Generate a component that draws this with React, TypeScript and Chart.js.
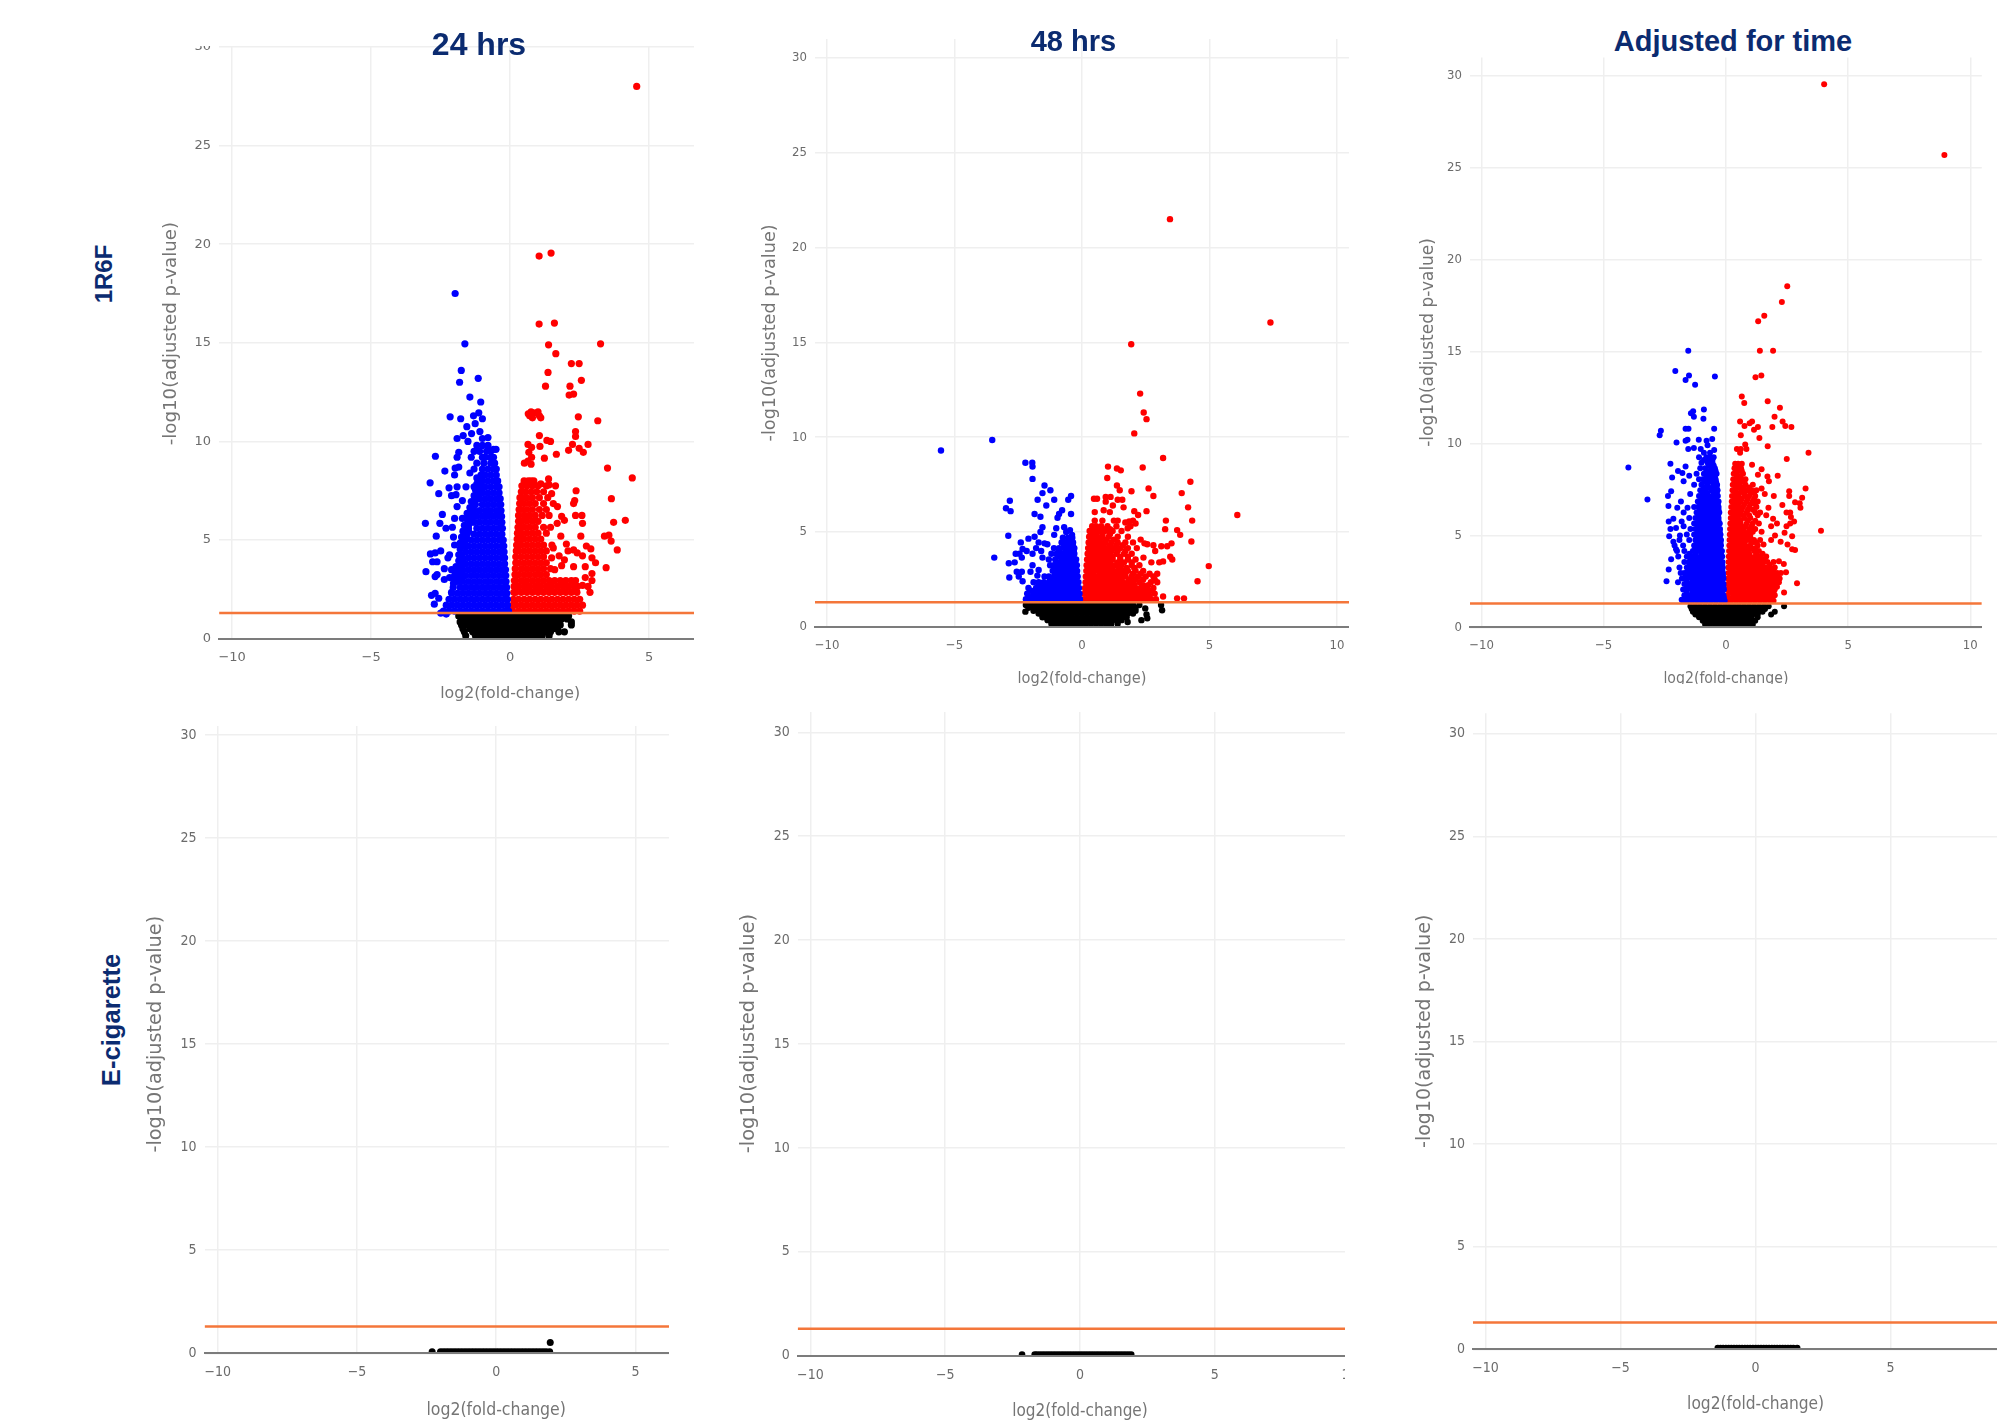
import React, { useEffect, useRef } from "react";
import { Chart, registerables } from "chart.js";

Chart.register(...registerables);

const xLimit = 10.47;
const yMaxes = [30.93, 31, 31, 30.97, 31, 31];
const threshold = 1.301;
const xTicks = [-10, -5, 0, 5, 10];
const xLabel = "log2(fold-change)";
const yLabel = "-log10(adjusted p-value)";
const columnTitles = ["24 hrs", "48 hrs", "Adjusted for time"];
const rowTitles = ["1R6F", "E-cigarette"];

// Rows are [y, x, x, x ...] : the dense part of each cloud.
const blue24Rows = [
  [1.4, -2.4, -2.2, -2, -1.8, -1.6, -1.4, -1.2, -1, -.8, -.6, -.4, -.2, -.06],
  [1.7, -2.3, -2.1, -1.9, -1.7, -1.5, -1.3, -1.1, -.9, -.7, -.5, -.3, -.1],
  [2, -2.2, -2, -1.8, -1.6, -1.4, -1.2, -1, -.8, -.6, -.4, -.2, -.1],
  [2.3, -2.1, -1.9, -1.7, -1.5, -1.3, -1.1, -.9, -.7, -.5, -.3, -.12],
  [2.6, -2.05, -1.8, -1.6, -1.4, -1.2, -1, -.8, -.6, -.4, -.2, -.13],
  [2.9, -1.9, -1.7, -1.5, -1.3, -1.1, -.9, -.7, -.5, -.3, -.15],
  [3.2, -2, -1.8, -1.6, -1.4, -1.2, -1, -.8, -.6, -.4, -.2, -.16],
  [3.5, -1.9, -1.7, -1.5, -1.3, -1.1, -.9, -.7, -.5, -.3, -.17],
  [3.8, -1.8, -1.6, -1.4, -1.2, -1, -.8, -.6, -.4, -.2],
  [4.1, -1.7, -1.5, -1.3, -1.1, -.9, -.7, -.5, -.3, -.2],
  [4.4, -1.6, -1.4, -1.2, -1, -.8, -.6, -.4, -.22],
  [4.7, -1.65, -1.5, -1.3, -1.1, -.9, -.7, -.5, -.3, -.23],
  [5, -1.6, -1.4, -1.2, -1, -.8, -.6, -.4, -.25],
  [5.3, -1.55, -1.3, -1.1, -.9, -.7, -.5, -.3],
  [5.6, -1.5, -1.2, -1, -.8, -.6, -.4, -.28],
  [5.9, -1.4, -1.3, -1.1, -.9, -.7, -.5, -.3],
  [6.2, -1.35, -1.2, -1, -.8, -.6, -.4, -.31],
  [6.5, -1.3, -1.1, -.9, -.7, -.5, -.33],
  [6.8, -1.25, -1, -.8, -.6, -.4, -.34],
  [7.1, -1.2, -1.1, -.9, -.7, -.5, -.36],
  [7.4, -1.1, -1, -.8, -.6, -.4],
  [7.7, -1.3, -1.05, -.9, -.7, -.5, -.4],
  [8, -1.1, -1, -.8, -.6, -.45],
  [8.3, -1.05, -.9, -.7, -.5],
  [8.6, -1.3, -1, -.8, -.6, -.5],
  [8.9, -1.2, -.95, -.7, -.6],
  [9.2, -1.4, -1, -.9, -.7, -.6],
  [9.5, -1.3, -1.1, -.85, -.7],
  [9.8, -1.2, -1, -.8],
];
const blue24Fill = [
  [3.05, -2.05, -1.95, -1.75], [3.35, -1.95, -1.8], [3.65, -1.95, -1.75], [3.95, -1.85, -1.7], [4.25, -1.85, -1.75], [4.55, -1.8],
  [4.85, -1.8, -1.75], [5.15, -1.75, -1.6], [5.45, -1.7, -1.5], [5.75, -1.65, -1.5], [6.05, -1.55, -1.45], [6.35, -1.55, -1.4],
  [6.65, -1.45, -1.35], [6.95, -1.4, -1.3], [7.25, -1.3], [7.55, -1.25], [7.85, -1.2], [8.15, -1.2],
];
const blue24Scatter = [
  [-1.98, 17.5], [-1.63, 14.95], [-1.76, 13.6], [-1.15, 13.2], [-1.82, 13], [-1.45, 12.25], [-1.06, 12], [-2.16, 11.25],
  [-1.78, 11.15], [-1.32, 11.3], [-1.13, 11.45], [-1, 11.15], [-1.26, 10.9], [-1.56, 10.75], [-1.09, 10.5], [-1.39, 10.4],
  [-1.69, 10.3], [-1.91, 10.15], [-.8, 10.2], [-1, 10.15], [-1.52, 10], [-1.85, 9.45], [-2.69, 9.25], [-1.91, 9.2],
  [-.51, 9.6], [-.6, 9.6], [-.56, 8.9], [-2.35, 8.5], [-1.98, 8.65], [-1.85, 8.7], [-2, 8.3], [-1.45, 8.4], [-2.88, 7.9],
  [-2.2, 7.65], [-1.91, 7.7], [-1.59, 7.7], [-2.57, 7.35], [-2.11, 7.25], [-1.95, 7.3], [-1.72, 7], [-1.91, 6.7],
  [-2.44, 6.3], [-2, 6.1], [-1.72, 6.1], [-3.05, 5.85], [-2.53, 5.85], [-2.31, 5.6], [-2.08, 5.65], [-2.66, 5.2],
  [-2.04, 5.15], [-2, 4.75], [-2.5, 4.45], [-2.7, 4.35], [-2.87, 4.3], [-2.18, 4.25], [-2.79, 3.9], [-2.63, 3.9],
  [-2.24, 4.1], [-2.37, 3.55], [-2.11, 3.5], [-3.03, 3.4], [-2.7, 3.15], [-2.63, 3.25], [-2.37, 3], [-2.18, 3.1],
  [-2.04, 2.8], [-2.11, 2.35], [-2.83, 2.2], [-2.7, 2.3], [-2.57, 2.05], [-2.73, 1.75], [-2.5, 1.3], [-2.3, 1.25],
];
const red24Rows = [
  [1.4, .08, .3, .5, .7, .9, 1.1, 1.3, 1.5, 1.7, 1.9, 2.1, 2.3, 2.5],
  [1.7, .1, .2, .4, .6, .8, 1, 1.2, 1.4, 1.6, 1.8, 2, 2.2, 2.4, 2.6],
  [2, .12, .3, .5, .7, .9, 1.1, 1.3, 1.5, 1.7, 1.9, 2.1, 2.3, 2.5],
  [2.35, .13, .2, .4, .6, .8, 1, 1.2, 1.4, 1.6, 1.8, 2, 2.2, 2.4],
  [2.65, .14, .3, .5, .7, .9, 1.1, 1.3, 1.5, 1.7, 1.9, 2.1, 2.3, 2.42],
  [2.95, .15, .2, .4, .6, .8, 1, 1.2, 1.4, 1.6, 1.8, 2, 2.2, 2.35],
  [3.25, .17, .3, .5, .7, .9, 1.1, 1.3],
  [3.55, .18, .4, .6, .8, 1, 1.2, 1.45],
  [3.85, .2, .3, .5, .7, .9, 1.1, 1.3],
  [4.15, .2, .4, .6, .8, 1, 1.2],
  [4.45, .22, .3, .5, .7, .9, 1.1, 1.3],
  [4.75, .23, .4, .6, .8, 1, 1.2, 1.5],
  [5.05, .25, .35, .5, .7, .9, 1.1],
  [5.35, .26, .4, .6, .8, 1, 1.3],
  [5.65, .28, .35, .5, .7, .9, 1.2, 1.45],
  [5.95, .3, .4, .6, .8, 1],
  [6.25, .3, .5, .7, .9, 1.15, 1.4],
  [6.55, .32, .4, .6, .8, 1.05, 1.3],
  [6.85, .34, .5, .7, .9, 1.2, 1.55],
  [7.15, .35, .42, .6, .8, 1.05, 1.35],
  [7.45, .4, .55, .75, .95, 1.2],
  [7.75, .42, .6, .8, 1, 1.3],
  [8, .5, .65, .85, .75],
];
const red24Scatter = [
  [4.55, 28], [1.04, 19.4], [1.47, 19.55], [1.04, 15.95], [1.59, 16], [1.38, 14.9], [3.25, 14.95], [1.64, 14.45], [2.2, 13.95],
  [2.48, 13.95], [1.36, 13.5], [2.56, 13.1], [1.27, 12.8], [2.15, 12.8], [2.12, 12.35], [2.28, 12.4], [.65, 11.4], [.75, 11.5],
  [.85, 11.45], [.8, 11.2], [1, 11.5], [1.05, 11.3], [1.1, 11.2], [.7, 11.3], [2.45, 11.25], [3.15, 11.05], [1.05, 10.3],
  [2.35, 10.5], [2.35, 10.25], [1.32, 10.05], [1.45, 10], [2.24, 9.85], [2.8, 9.85], [.64, 9.85], [.77, 9.7], [1.07, 9.75],
  [2.48, 9.65], [2.1, 9.55], [2.63, 9.45], [1.66, 9.35], [.67, 9.45], [.77, 9.2], [1.23, 9.15], [.51, 8.9], [.64, 9], [.75, 8.85],
  [3.5, 8.65], [4.39, 8.15], [1.38, 8.1], [1.63, 7.75], [1.1, 7.85], [2.37, 7.5], [1.49, 7.35], [3.64, 7.1], [2.32, 7], [2.28, 6.85],
  [3.72, 5.9], [4.14, 6], [2.35, 6.25], [2.58, 6.25], [1.85, 6.2], [1.95, 6], [2.6, 5.85], [1.69, 5.85], [3.39, 5.2], [3.55, 5.25],
  [3.63, 4.95], [1.82, 5.2], [2.54, 5.2], [2.74, 4.7], [2.02, 4.8], [3.85, 4.5], [2.28, 4.5], [2.9, 4.55], [2.41, 4.35], [2.6, 4.2],
  [2.94, 4.1], [3.07, 3.85], [1.49, 4.1], [1.76, 4.2], [2.08, 4.45], [3.45, 3.6], [2.7, 3.65], [2.28, 3.65], [2.94, 3.3], [2.7, 3.1],
  [2.94, 2.95], [2.6, 2.7], [2.8, 2.65], [2.87, 2.35], [1.6, 3.5], [1.85, 3.7], [1.95, 4], [1.55, 4.6], [1.7, 6.7], [1.4, 7.8],
];
const black24Rows = [
  [1.15, -1.85, -1.65, -1.45, -1.25, -1.05, -.85, -.65, -.45, -.25, -.05, .15, .35, .55, .75, .95, 1.15, 1.35, 1.55, 1.75, 1.95, 2.1],
  [1, -1.75, -1.55, -1.35, -1.15, -.95, -.75, -.55, -.35, -.15, .05, .25, .45, .65, .85, 1.05, 1.25, 1.45, 1.65, 1.85, 2.05],
  [.85, -1.8, -1.65, -1.45, -1.25, -1.05, -.85, -.65, -.45, -.25, -.05, .15, .35, .55, .75, .95, 1.15, 1.35, 1.55, 1.75, 2.2],
  [.7, -1.75, -1.55, -1.35, -1.15, -.95, -.75, -.55, -.35, -.15, .05, .25, .45, .65, .85, 1.05, 1.25, 1.45, 1.65, 1.8, 2.2],
  [.5, -1.7, -1.45, -1.25, -1.05, -.85, -.65, -.45, -.25, -.05, .15, .35, .55, .75, .95, 1.15, 1.35, 1.55, 1.7],
  [.35, -1.65, -1.35, -1.15, -.95, -.75, -.55, -.35, -.15, .05, .25, .45, .65, .85, 1.05, 1.25, 1.45, 1.75, 1.95],
  [.15, -1.6, -1.25, -1.05, -.85, -.65, -.45, -.25, -.05, .15, .35, .55, .75, .95, 1.15, 1.4],
];

const blue48Rows = [
  [1.45, -2.2, -2, -1.8, -1.6, -1.4, -1.2, -1, -.8, -.6, -.4, -.2, -.08],
  [1.6, -2.1, -1.9, -1.7, -1.5, -1.3, -1.1, -.9, -.7, -.5, -.3, -.14],
  [1.75, -2.15, -1.9, -1.7, -1.5, -1.3, -1.1, -.9, -.7, -.5, -.3, -.1],
  [1.9, -2, -1.8, -1.6, -1.4, -1.2, -1, -.8, -.6, -.4, -.2],
  [2.05, -2.1, -1.8, -1.6, -1.4, -1.2, -1, -.8, -.6, -.4, -.2, -.12],
  [2.2, -1.7, -1.5, -1.3, -1.1, -.9, -.7, -.5, -.3, -.2],
  [2.35, -1.9, -1.7, -1.5, -1.3, -1.1, -.9, -.7, -.5, -.3, -.14],
  [2.5, -1.25, -1, -.8, -.6, -.4, -.22],
  [2.65, -1.3, -1.1, -.9, -.7, -.5, -.3, -.17],
  [2.8, -1.05, -.9, -.7, -.5, -.3, -.22],
  [2.95, -1.15, -1, -.8, -.6, -.4, -.19],
  [3.1, -1, -.8, -.6, -.4, -.25],
  [3.25, -1.25, -1.1, -.9, -.7, -.5, -.3, -.2],
  [3.4, -1, -.85, -.65, -.45, -.27],
  [3.55, -1.3, -1.05, -.8, -.6, -.4, -.23],
  [3.7, -.95, -.75, -.55, -.33],
  [3.85, -1.2, -1, -.85, -.7, -.5, -.3],
  [4, -.9, -.65, -.45, -.32],
  [4.15, -1.1, -.9, -.7, -.55, -.38, -.3],
  [4.3, -.7, -.5, -.36],
  [4.45, -.8, -.65, -.5, -.35],
  [4.7, -.75, -.55, -.38],
];
const blue48Scatter = [
  [-5.53, 9.3], [-3.52, 9.85], [-2.22, 8.65], [-1.95, 8.65], [-1.94, 8.45], [-1.94, 7.8], [-1.47, 7.45], [-1.24, 7.2], [-1.55, 7.05],
  [-1.09, 6.7], [-1.74, 6.7], [-2.83, 6.65], [-.54, 6.7], [-.43, 6.9], [-1.4, 6.4], [-2.98, 6.25], [-2.8, 6.1], [-1.86, 5.95],
  [-1.63, 5.8], [-.78, 6.15], [-.9, 5.95], [-.43, 5.95], [-.96, 5.75], [-1.55, 5.25], [-1.63, 5], [-1.01, 5.2], [-.7, 5.25],
  [-.47, 5.1], [-1.09, 4.85], [-2.89, 4.8], [-.62, 5], [-.39, 4.85], [-2.4, 4.45], [-2.1, 4.65], [-1.86, 4.75], [-2.33, 4.1],
  [-1.47, 4.4], [-1.7, 4.45], [-1.36, 4.35], [-2.6, 3.85], [-2.45, 3.85], [-2.17, 4], [-1.94, 3.85], [-3.44, 3.65], [-2.36, 3.65],
  [-1.55, 3.65], [-2.87, 3.35], [-2.64, 3.4], [-1.94, 3.25], [-2.56, 2.9], [-2.36, 2.9], [-2.02, 2.9], [-1.7, 3], [-2.85, 2.6],
  [-2.48, 2.65], [-2.33, 2.4], [-1.47, 2.65], [-1.8, 4.15], [-1.6, 4], [-1.75, 2.7],
];
const red48Rows = [
  [1.45, .08, .3, .5, .7, .9, 1.1, 1.3, 1.5, 1.7, 1.9, 2.1, 2.3, 2.5, 2.7, 2.9],
  [1.6, .25, .45, .65, .85, 1.05, 1.25, 1.45, 1.65, 1.85, 2.05, 2.25, 2.45, 2.65],
  [1.75, .1, .2, .4, .6, .8, 1, 1.2, 1.4, 1.6, 1.8, 2, 2.2, 2.4, 2.6, 2.85],
  [1.9, .15, .35, .55, .75, .95, 1.15, 1.35, 1.55, 1.75, 1.95, 2.15, 2.35, 2.55, 2.75],
  [2.05, .12, .3, .5, .7, .9, 1.1, 1.3, 1.5, 1.7, 1.9, 2.1, 2.3, 2.55, 2.8],
  [2.2, .25, .45, .65, .85, 1.05, 1.25, 1.45, 1.65, 1.85, 2.05, 2.4, 2.6],
  [2.35, .14, .2, .4, .6, .8, 1, 1.2, 1.4, 1.6, 1.8, 2, 2.25, 2.7, 2.95],
  [2.5, .25, .35, .55, .75, .95, 1.15, 1.35, 1.55, 1.85, 2.1, 2.4, 2.85],
  [2.65, .15, .3, .5, .7, .9, 1.1, 1.3, 1.5, 1.7, 1.95, 2.2, 2.5],
  [2.8, .25, .45, .7, .9, 1.1, 1.3, 1.5, 1.7, 2, 2.3, 2.65],
  [2.95, .17, .35, .6, .8, 1, 1.2, 1.4, 1.6, 1.8, 2.1, 2.4],
  [3.1, .25, .45, .6, .8, 1, 1.2, 1.45, 1.75, 2.05],
  [3.25, .18, .3, .5, .7, .9, 1.1, 1.3, 1.55, 1.95, 2.25],
  [3.4, .3, .5, .7, .9, 1.1, 1.4, 1.65, 1.95],
  [3.55, .2, .4, .6, .8, 1, 1.2, 1.5, 1.8, 2.1],
  [3.7, .3, .45, .6, .8, 1, 1.2, 1.5, 1.8],
  [3.85, .22, .3, .5, .7, .9, 1.1, 1.35, 1.65, 1.95],
  [4, .3, .5, .7, .9, 1.15, 1.4, 1.7],
  [4.15, .24, .4, .6, .8, 1, 1.25, 1.5, 1.8, 2.15],
  [4.3, .33, .5, .65, .85, 1.1, 1.35, 1.6],
  [4.45, .26, .35, .5, .7, .9, 1.15, 1.4, 1.7, 2],
  [4.6, .35, .5, .7, .95, 1.25],
  [4.75, .28, .4, .6, .8, 1.05, 1.4, 1.8],
  [4.9, .38, .55, .8, 1.1],
  [5.05, .3, .45, .7, .9, 1.2, 1.55],
  [5.15, .42, .6, .85, 1.1],
  [5.3, .4, .55, .75, 1, 1.35],
  [5.6, .5, .8, 1.25, 1.4],
];
const red48Scatter = [
  [3.45, 21.5], [7.39, 16.05], [1.93, 14.9], [2.28, 12.3], [2.42, 11.3], [2.53, 10.95], [2.05, 10.2], [3.18, 8.9], [1.02, 8.45],
  [1.37, 8.35], [1.52, 8.25], [2.38, 8.4], [.99, 7.85], [4.25, 7.65], [1.37, 7.45], [1.48, 7.2], [1.94, 7.15], [2.61, 7.3],
  [3.91, 7.05], [2.8, 6.9], [.47, 6.75], [.59, 6.75], [.93, 6.85], [1.12, 6.85], [1.4, 6.7], [1.58, 6.7], [.93, 6.6], [1.21, 6.4],
  [1.63, 6.3], [4.16, 6.3], [2.53, 6.1], [2.05, 6.1], [.5, 6.05], [.85, 6.15], [1.09, 6.05], [2.2, 5.9], [6.09, 5.9], [3.29, 5.6],
  [4.32, 5.6], [3.26, 5.15], [3.73, 5.1], [3.85, 4.85], [4.29, 4.5], [3.51, 4.4], [2.8, 4.3], [2.56, 4.35], [3.34, 4.25], [3.11, 4.25],
  [2.87, 4], [3.46, 3.7], [3.54, 3.55], [3.03, 3.4], [3.18, 3.45], [4.97, 3.2], [2.41, 3.65], [2.72, 3.4], [4.53, 2.4], [2.95, 2.8],
  [2.8, 2.65], [3.18, 1.6], [3.73, 1.5], [4, 1.5], [1.79, 5.2], [1.7, 5.5], [1.85, 5.55], [2, 5.6], [2.1, 5.45], [1.9, 5.3], [2.3, 4.6], [2.45, 4.4],
];
const black48Rows = [
  [1.15, -2.2, -2, -1.8, -1.6, -1.4, -1.2, -1, -.8, -.6, -.4, -.2, 0, .2, .4, .6, .8, 1, 1.2, 1.4, 1.6, 1.8, 2, 2.25],
  [1, -2.1, -1.9, -1.7, -1.5, -1.3, -1.1, -.9, -.7, -.5, -.3, -.1, .1, .3, .5, .7, .9, 1.1, 1.3, 1.5, 1.7, 1.9, 2.1],
  [.85, -1.9, -1.7, -1.5, -1.3, -1.1, -.9, -.7, -.5, -.3, -.1, .1, .3, .5, .7, .9, 1.1, 1.3, 1.5, 1.7, 1.9, 2.1],
  [.7, -1.7, -1.6, -1.4, -1.2, -1, -.8, -.6, -.4, -.2, 0, .2, .4, .6, .8, 1, 1.2, 1.4, 1.6, 1.8, 2],
  [.5, -1.55, -1.4, -1.2, -1, -.8, -.6, -.4, -.2, 0, .2, .4, .6, .8, 1, 1.2, 1.4, 1.6, 1.75],
  [.35, -1.35, -1.2, -1, -.8, -.6, -.4, -.2, 0, .2, .4, .6, .8, 1, 1.2, 1.4, 1.55],
  [.15, -1.2, -1.05, -.85, -.65, -.45, -.25, -.05, .15, .35, .55, .75, .95, 1.15, 1.4],
  [.8, -2.22], [1.15, 3.1], [.87, 3.14], [.97, 2.48], [.65, 2.53], [.45, 2.56], [.35, 2.33], [.25, 1.79],
];

const blue72Rows = [
  [1.45, -1.75, -1.6, -1.4, -1.2, -1, -.8, -.6, -.4, -.2, -.05],
  [1.6, -1.65, -1.45, -1.25, -1.05, -.85, -.65, -.45, -.25, -.08],
  [1.75, -1.7, -1.5, -1.3, -1.1, -.9, -.7, -.5, -.3, -.1],
  [1.9, -1.6, -1.35, -1.15, -.95, -.75, -.55, -.35, -.15],
  [2.05, -1.75, -1.6, -1.4, -1.2, -1, -.8, -.6, -.4, -.2, -.08],
  [2.2, -1.6, -1.45, -1.25, -1.05, -.85, -.65, -.45, -.25, -.1],
  [2.35, -1.7, -1.5, -1.3, -1.1, -.9, -.7, -.5, -.3, -.1],
  [2.5, -1.6, -1.35, -1.15, -.95, -.75, -.55, -.35, -.15],
  [2.65, -1.8, -1.6, -1.4, -1.2, -1, -.8, -.6, -.4, -.2, -.1],
  [2.8, -1.65, -1.45, -1.25, -1.05, -.85, -.65, -.45, -.25, -.12],
  [2.95, -1.85, -1.7, -1.5, -1.3, -1.1, -.9, -.7, -.5, -.3, -.12],
  [3.1, -1.55, -1.35, -1.15, -.95, -.75, -.55, -.35, -.15],
  [3.25, -1.9, -1.6, -1.4, -1.2, -1, -.8, -.6, -.4, -.2, -.13],
  [3.4, -1.5, -1.3, -1.1, -.9, -.7, -.5, -.3, -.15],
  [3.55, -1.7, -1.5, -1.3, -1.1, -.9, -.7, -.5, -.3, -.14],
  [3.7, -1.45, -1.25, -1.05, -.85, -.65, -.45, -.25],
  [3.85, -1.95, -1.6, -1.4, -1.2, -1, -.8, -.6, -.4, -.2, -.15],
  [4, -1.5, -1.25, -1, -.8, -.6, -.4, -.2],
  [4.15, -2, -1.7, -1.35, -1.1, -.9, -.7, -.5, -.3, -.16],
  [4.3, -1.25, -1.05, -.85, -.65, -.45, -.25],
  [4.45, -2.1, -1.75, -1.3, -1.15, -1, -.8, -.6, -.4, -.2],
  [4.6, -1.2, -1, -.8, -.6, -.4, -.22],
  [4.75, -1.9, -1.5, -1.25, -1.1, -.9, -.7, -.5, -.3, -.2],
  [4.9, -1.2, -1, -.8, -.6, -.4, -.25],
  [5.05, -1.6, -1.3, -1.2, -1, -.8, -.6, -.4, -.22],
  [5.2, -1.15, -.95, -.75, -.55, -.35, -.25],
  [5.35, -1.45, -1.25, -1.1, -.9, -.7, -.5, -.3, -.24],
  [5.5, -1.15, -.95, -.75, -.55, -.35],
  [5.65, -1.3, -1.2, -1, -.8, -.6, -.4, -.25],
  [5.8, -1.1, -.9, -.7, -.5, -.3],
  [5.95, -1.5, -1.25, -1.1, -.9, -.7, -.5, -.3],
  [6.1, -1.1, -.9, -.7, -.5, -.32],
  [6.25, -1.2, -1, -.8, -.6, -.4, -.27],
  [6.4, -1.05, -.85, -.65, -.45, -.3],
  [6.55, -1.3, -1.15, -.9, -.7, -.5, -.3],
  [6.7, -1.05, -.85, -.65, -.45, -.33],
  [6.85, -1.15, -1, -.8, -.6, -.4, -.3],
  [7, -1, -.8, -.6, -.4],
  [7.15, -1.1, -.9, -.7, -.5, -.33],
  [7.3, -.95, -.75, -.5, -.37],
  [7.45, -1.05, -.85, -.6, -.4, -.34],
  [7.6, -.9, -.7, -.5, -.38],
  [7.75, -1.3, -1, -.75, -.5, -.36],
  [7.9, -.85, -.7, -.5, -.4],
  [8.05, -1.1, -.95, -.8, -.6, -.42],
  [8.2, -.8, -.6, -.45],
  [8.35, -1.2, -.9, -.7, -.5, -.38],
  [8.5, -.75, -.55, -.42],
  [8.65, -1.05, -.85, -.6, -.45],
  [8.8, -.7, -.5],
  [8.95, -1, -.75, -.55],
  [9.1, -.9, -.7, -.55],
  [9.25, -1.1, -.8, -.65, -.5],
  [9.5, -.9, -.65],
];
const blue72Scatter = [
  [-3.99, 8.7], [-3.21, 6.95], [-1.54, 15.05], [-2.07, 13.95], [-1.51, 13.7], [-1.65, 13.45], [-1.26, 13.2], [-.45, 13.65], [-.9, 11.85],
  [-1.34, 11.75], [-1.43, 11.65], [-1.31, 11.45], [-.92, 11.35], [-2.66, 10.7], [-2.71, 10.45], [-1.65, 10.8], [-1.53, 10.8], [-.48, 10.8],
  [-2.02, 10.05], [-1.65, 10.15], [-1.57, 10.2], [-1.11, 10.2], [-.79, 10.15], [-.56, 10.25], [-.75, 9.9], [-1.54, 9.7], [-1.31, 9.75],
  [-1.03, 9.7], [-.48, 9.65], [-2.27, 8.9], [-1.65, 8.75], [-1.96, 8.5], [-1.78, 8.4], [-2.2, 8.15], [-1.73, 7.95], [-1.5, 8.25],
  [-2.24, 7.4], [-2.37, 7.15], [-1.46, 7.25], [-1.84, 6.85], [-2.35, 6.6], [-1.99, 6.5], [-1.73, 6.25], [-1.57, 6.5], [-2.34, 5.75],
  [-2.15, 5.9], [-1.81, 5.75], [-2.27, 5.35], [-2.04, 5.4], [-1.73, 5.5], [-2.32, 4.95], [-2.15, 4.65], [-2.04, 4.25], [-1.88, 5],
  [-2.24, 3.7], [-2.34, 3.15], [-2.43, 2.5], [-1.96, 2.45], [-1.81, 1.5],
];
const red72Rows = [
  [1.45, .05, .2, .4, .6, .8, 1, 1.2, 1.4, 1.6, 1.8, 1.95],
  [1.6, .15, .3, .5, .7, .9, 1.1, 1.3, 1.5, 1.7, 1.9],
  [1.75, .06, .3, .5, .7, .9, 1.1, 1.3, 1.5, 1.7, 1.9, 2],
  [1.9, .15, .35, .55, .75, .95, 1.15, 1.35, 1.55, 1.75, 1.95],
  [2.05, .07, .2, .4, .6, .8, 1, 1.2, 1.4, 1.6, 1.8, 2],
  [2.2, .15, .3, .5, .7, .9, 1.1, 1.3, 1.5, 1.7, 1.9],
  [2.35, .08, .3, .5, .7, .9, 1.1, 1.3, 1.5, 1.7, 1.9, 2.05],
  [2.5, .18, .35, .55, .75, .95, 1.15, 1.35, 1.55, 1.75, 1.95, 2.1],
  [2.65, .09, .2, .4, .6, .8, 1, 1.2, 1.4, 1.6, 1.8, 2, 2.2],
  [2.8, .18, .3, .5, .7, .9, 1.1, 1.3, 1.5, 1.7, 1.9, 2.1],
  [2.95, .1, .3, .5, .7, .9, 1.1, 1.3, 1.5, 1.7, 1.9, 2.1, 2.25],
  [3.1, .2, .35, .55, .75, .95, 1.15, 1.35, 1.55, 1.75, 1.95],
  [3.25, .1, .2, .4, .6, .8, 1, 1.2, 1.4, 1.6, 1.8, 2],
  [3.4, .2, .3, .5, .7, .9, 1.1, 1.3, 1.5, 1.8],
  [3.55, .11, .3, .5, .7, .9, 1.1, 1.3, 1.5, 1.7, 1.95],
  [3.7, .22, .4, .6, .8, 1, 1.2, 1.4, 1.55],
  [3.85, .12, .2, .4, .6, .8, 1, 1.2, 1.4, 1.65],
  [4, .22, .35, .55, .75, .95, 1.25, 1.5],
  [4.15, .13, .3, .5, .7, .9, 1.15, 1.35],
  [4.3, .24, .4, .6, .8, 1, 1.2],
  [4.45, .14, .2, .4, .6, .8, 1, 1.3],
  [4.6, .25, .35, .55, .75, 1.05, 1.25],
  [4.75, .15, .3, .5, .7, .9, 1.15, 1.4],
  [4.9, .26, .4, .6, .8, 1],
  [5.05, .16, .2, .4, .6, .8, 1],
  [5.2, .27, .35, .55, .75, .95, 1.1],
  [5.35, .17, .3, .5, .7, .95, 1.2],
  [5.5, .28, .4, .6, .8, 1.05],
  [5.65, .18, .25, .4, .6, .85, 1.1, 1.35],
  [5.8, .3, .4, .6, .9, 1.2],
  [5.95, .2, .3, .5, .75, 1],
  [6.1, .32, .5, .7, .95, 1.3],
  [6.25, .2, .4, .6, .85, 1.2, 1.4],
  [6.4, .33, .45, .65, .9, 1.1],
  [6.55, .22, .3, .5, .7, .95, 1.25],
  [6.7, .35, .5, .75, 1, 1.2],
  [6.85, .24, .4, .6, .85, 1.1, 1.3],
  [7, .36, .45, .65, .9, 1.15],
  [7.15, .25, .35, .5, .75, .95, 1.2],
  [7.3, .38, .55, .75, 1, 1.15],
  [7.45, .27, .4, .65, .85, 1.05, 1.25],
  [7.6, .4, .5, .7, .95],
  [7.75, .28, .35, .55, .8, 1.1],
  [7.9, .45, .6, .75],
  [8.05, .3, .4, .6, .8],
  [8.2, .45, .6],
  [8.35, .32, .45, .7],
  [8.5, .5, .65],
  [8.65, .35, .5, .62],
  [8.9, .38, .5, .65],
];
const red72Scatter = [
  [4.02, 29.55], [8.94, 25.7], [2.51, 18.55], [2.29, 17.7], [1.57, 16.95], [1.32, 16.65], [1.39, 15.05], [1.93, 15.05], [1.45, 13.7],
  [1.21, 13.6], [.65, 12.55], [.75, 12.2], [1.71, 12.3], [2.21, 11.95], [1.99, 11.45], [.58, 11.2], [.97, 11.1], [1.07, 11.2], [2.32, 11.2],
  [2.43, 10.95], [2.68, 10.9], [.76, 10.95], [1.31, 10.9], [1.15, 10.75], [1.9, 10.9], [.61, 10.45], [1.37, 10.3], [.79, 9.95], [1.71, 9.85],
  [.45, 9.7], [.61, 9.7], [.84, 9.7], [.58, 9.5], [3.38, 9.5], [2.49, 9.15], [1.07, 8.85], [1.46, 8.6], [1.31, 8.3], [2.12, 8.25], [1.7, 8.2],
  [1.76, 7.95], [1.46, 7.55], [3.26, 7.55], [1.59, 7.25], [2.59, 7.4], [2.59, 7.15], [1.96, 7.15], [3.12, 7.05], [2.83, 6.8], [3.02, 6.75],
  [3.05, 6.5], [2.31, 6.65], [1.74, 6.5], [2.48, 6.25], [2.63, 6.25], [1.65, 6.1], [2.66, 6], [1.93, 5.9], [2.79, 5.75], [2.63, 5.65],
  [2.09, 5.65], [1.85, 5.5], [2.48, 5.5], [3.89, 5.25], [2.4, 5.15], [2.01, 5], [2.71, 4.95], [1.46, 5.2], [1.85, 4.75], [2.24, 4.65],
  [2.52, 4.5], [2.71, 4.25], [2.83, 4.2], [1.54, 4.5], [2.37, 3.45], [2.17, 3.6], [2.46, 3], [2.91, 2.4], [2.17, 2.45], [2.09, 2.2], [2.38, 1.9],
];
const black72Rows = [
  [1.15, -1.45, -1.25, -1.05, -.85, -.65, -.45, -.25, -.05, .15, .35, .55, .75, .95, 1.15, 1.35, 1.55, 1.75, 2.38],
  [1, -1.4, -1.15, -.95, -.75, -.55, -.35, -.15, .05, .25, .45, .65, .85, 1.05, 1.25, 1.45, 1.6],
  [.85, -1.35, -1.25, -1.05, -.85, -.65, -.45, -.25, -.05, .15, .35, .55, .75, .95, 1.15, 1.35, 1.5, 2],
  [.7, -1.25, -1.1, -.9, -.7, -.5, -.3, -.1, .1, .3, .5, .7, .9, 1.1, 1.3, 1.85],
  [.55, -1.1, -.95, -.75, -.55, -.35, -.15, .05, .25, .45, .65, .85, 1.05, 1.3],
  [.35, -.95, -.8, -.6, -.4, -.2, 0, .2, .4, .6, .8, 1, 1.2],
  [.15, -.85, -.65, -.45, -.25, -.05, .15, .35, .55, .75, .95, 1.1],
];

const blackEcig24Rows = [
  [.08, -2.3, -2, -1.9, -1.8, -1.7, -1.6, -1.5, -1.4, -1.3, -1.2, -1.1, -1, -.9, -.8, -.7, -.6, -.5, -.4, -.3, -.2, -.1, 0, .1, .2, .3, .4, .5, .6, .7, .8, .9, 1, 1.1, 1.2, 1.3, 1.4, 1.5, 1.6, 1.7, 1.8, 1.92],
  [.52, 1.94],
];
const blackEcig48Rows = [
  [.06, -2.15, -1.68, -1.6, -1.5, -1.4, -1.3, -1.2, -1.1, -1, -.9, -.8, -.7, -.6, -.5, -.4, -.3, -.2, -.1, 0, .1, .2, .3, .4, .5, .6, .7, .8, .9, 1, 1.1, 1.2, 1.3, 1.4, 1.5, 1.6, 1.7, 1.8, 1.9],
];
const blackEcig72Rows = [
  [.06, -1.4, -1.3, -1.2, -1.1, -1, -.9, -.8, -.7, -.6, -.5, -.4, -.3, -.2, -.1, 0, .1, .2, .3, .4, .5, .6, .7, .8, .9, 1, 1.1, 1.2, 1.3, 1.4, 1.54],
];

const fromRows = (rows: number[][]) => rows.flatMap(([y, ...xs]) => xs.map((x) => ({ x, y })));
const fromPairs = (pairs: number[][]) => pairs.map(([x, y]) => ({ x, y }));

const panelData = [
  { blue: [...fromRows(blue24Rows), ...fromRows(blue24Fill), ...fromPairs(blue24Scatter)], red: [...fromRows(red24Rows), ...fromPairs(red24Scatter)], black: fromRows(black24Rows) },
  { blue: [...fromRows(blue48Rows), ...fromPairs(blue48Scatter)], red: [...fromRows(red48Rows), ...fromPairs(red48Scatter)], black: fromRows(black48Rows) },
  { blue: [...fromRows(blue72Rows), ...fromPairs(blue72Scatter)], red: [...fromRows(red72Rows), ...fromPairs(red72Scatter)], black: fromRows(black72Rows) },
  { blue: [], red: [], black: fromRows(blackEcig24Rows) },
  { blue: [], red: [], black: fromRows(blackEcig48Rows) },
  { blue: [], red: [], black: fromRows(blackEcig72Rows) },
];

// Layout of each panel, in page pixels. Each panel is a full plot that was cropped by "crop".
const DV = "'DejaVu Sans'";
const DVC = "'DejaVu Sans Condensed','DejaVu Sans'";
const panelLayout = [
  { plot: [219.1, 801.3, 28.6, 638.7], crop: [150, 694, 46, 720], yTitleX: 170.6, xTitleY: 694, r: 3.6, tickFamily: DV, tickSize: 13, xTitleFamily: DV, xTitleSize: 15.8, yTitleSize: 18.2 },
  { plot: [815, 1349, 39, 626.8], crop: [750, 1349.4, 39, 700], yTitleX: 770.5, xTitleY: 679, r: 3.2, tickFamily: DVC, tickSize: 13, xTitleFamily: DVC, xTitleSize: 16.2, yTitleSize: 17.7 },
  { plot: [1470, 1981.8, 57.5, 627.3], crop: [1400, 1981.8, 57, 684], yTitleX: 1427.7, xTitleY: 679, r: 3, tickFamily: DVC, tickSize: 13, xTitleFamily: DVC, xTitleSize: 15.7, yTitleSize: 17 },
  { plot: [204.6, 787.8, 715, 1353.3], crop: [130, 668.8, 726, 1424], yTitleX: 155.4, xTitleY: 1410, r: 3.5, tickFamily: DVC, tickSize: 14, xTitleFamily: DVC, xTitleSize: 17.5, yTitleSize: 19.3 },
  { plot: [797.7, 1362.3, 711.5, 1355.7], crop: [730, 1344.8, 712, 1424], yTitleX: 748.9, xTitleY: 1412, r: 3.3, tickFamily: DVC, tickSize: 14, xTitleFamily: DVC, xTitleSize: 17, yTitleSize: 19.5 },
  { plot: [1472.9, 2038.3, 713.2, 1349.3], crop: [1400, 1997, 712, 1424], yTitleX: 1425, xTitleY: 1405, r: 3.3, tickFamily: DVC, tickSize: 14, xTitleFamily: DVC, xTitleSize: 17.2, yTitleSize: 19 },
];

const columnTitleLayout = [
  { cx: 479, cy: 43.6, size: 32 },
  { cx: 1073.4, cy: 41.3, size: 29 },
  { cx: 1733, cy: 41.3, size: 29 },
];
const rowTitleLayout = [
  { cx: 104, cy: 274, size: 24 },
  { cx: 112, cy: 1020, size: 25.6 },
];

const INK = "#0B2B70";
const TEXT = "#6b6b6b";
const AXIS_TITLE = "#757575";
const GRID = "#efefef";

function Panel({ index }: { index: number }) {
  const ref = useRef<HTMLCanvasElement | null>(null);
  const L = panelLayout[index];
  const [pl, pr, pt, pb] = L.plot;
  const [cl, cr, ct, cb] = L.crop;
  const canvasLeft = Math.round(L.yTitleX - 0.6 * L.yTitleSize);
  const canvasTop = Math.round(pt - 28);
  const canvasRight = Math.round(pr + 24);
  const canvasBottom = Math.round(L.xTitleY + 0.6 * L.xTitleSize);

  useEffect(() => {
    const d = panelData[index];
    const dot = (data: { x: number; y: number }[], color: string, order: number) => ({
      data,
      order,
      backgroundColor: color,
      borderWidth: 0,
      pointRadius: L.r,
      pointBackgroundColor: color,
      pointBorderWidth: 0,
      clip: 0,
    });
    const chart = new Chart(ref.current as HTMLCanvasElement, {
      type: "scatter",
      data: {
        datasets: [
          {
            data: [{ x: -xLimit, y: threshold }, { x: xLimit, y: threshold }],
            showLine: true,
            pointRadius: 0,
            borderColor: "#F4763A",
            borderWidth: 2.5,
            order: 0,
          },
          dot(d.black, "#000000", 1),
          dot(d.blue, "#0000FF", 2),
          dot(d.red, "#FF0000", 3),
        ],
      } as any,
      options: {
        animation: false,
        responsive: false,
        devicePixelRatio: 1,
        events: [],
        layout: { padding: { top: pt - canvasTop, right: canvasRight - pr, left: 0, bottom: 0 } },
        plugins: { legend: { display: false }, tooltip: { enabled: false }, title: { display: false } },
        scales: {
          x: {
            type: "linear",
            min: -xLimit,
            max: xLimit,
            afterFit: (s: any) => { s.height = canvasBottom - pb; },
            afterBuildTicks: (s: any) => { s.ticks = xTicks.map((value) => ({ value })); },
            ticks: {
              autoSkip: false,
              maxRotation: 0,
              color: TEXT,
              padding: 11,
              font: { family: L.tickFamily, size: L.tickSize },
              callback: (v: any) => (v < 0 ? `\u2212${Math.abs(v)}` : `${v}`),
            },
            grid: { color: GRID, lineWidth: 1.5, drawTicks: false },
            border: { color: "#7c7c7c", width: 2, z: 1 },
            title: { display: true, text: xLabel, color: AXIS_TITLE, padding: 0, font: { family: L.xTitleFamily, size: L.xTitleSize } },
          },
          y: {
            type: "linear",
            min: 0,
            max: yMaxes[index],
            afterFit: (s: any) => { s.width = pl - canvasLeft; },
            ticks: {
              stepSize: 5,
              includeBounds: false,
              autoSkip: false,
              color: TEXT,
              padding: 8,
              font: { family: L.tickFamily, size: L.tickSize },
            },
            grid: { color: GRID, lineWidth: 1.5, drawTicks: false },
            border: { display: false },
            title: { display: true, text: yLabel, color: AXIS_TITLE, padding: 0, font: { family: DV, size: L.yTitleSize } },
          },
        },
      } as any,
    });
    return () => chart.destroy();
  }, [index]);

  return (
    <div style={{ position: "absolute", left: cl, top: ct, width: cr - cl, height: cb - ct, overflow: "hidden" }}>
      <canvas
        ref={ref}
        width={canvasRight - canvasLeft}
        height={canvasBottom - canvasTop}
        style={{ position: "absolute", left: canvasLeft - cl, top: canvasTop - ct, display: "block", filter: "blur(0.6px)" }}
      />
    </div>
  );
}

const headingStyle = (cx: number, cy: number, size: number, rotate: number): React.CSSProperties => ({
  position: "absolute",
  left: cx,
  top: cy,
  transform: `translate(-50%, -50%)${rotate ? ` rotate(${rotate}deg)` : ""}`,
  whiteSpace: "nowrap",
  fontFamily: "'Liberation Sans', Arial, sans-serif",
  fontWeight: 700,
  fontSize: size,
  lineHeight: 1,
  color: INK,
});

export default function App() {
  return (
    <div style={{ position: "absolute", left: 0, top: 0, width: 1997, height: 1424, overflow: "hidden", background: "#fff" }}>
      {panelLayout.map((_, i) => (
        <Panel key={i} index={i} />
      ))}
      {columnTitles.map((t, i) => (
        <div key={t} style={headingStyle(columnTitleLayout[i].cx, columnTitleLayout[i].cy, columnTitleLayout[i].size, 0)}>{t}</div>
      ))}
      {rowTitles.map((t, i) => (
        <div key={t} style={headingStyle(rowTitleLayout[i].cx, rowTitleLayout[i].cy, rowTitleLayout[i].size, -90)}>{t}</div>
      ))}
    </div>
  );
}
